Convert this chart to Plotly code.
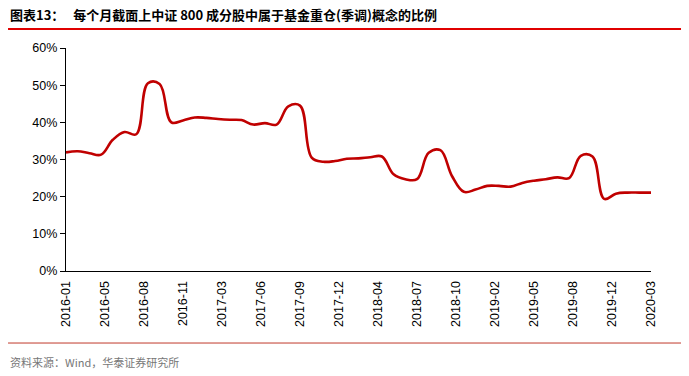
import plotly.graph_objects as go

months = [
    "2016-01", "2016-02", "2016-03", "2016-04", "2016-05", "2016-06", "2016-07", "2016-08", "2016-09", "2016-10", "2016-11", "2016-12",
    "2017-01", "2017-02", "2017-03", "2017-04", "2017-05", "2017-06", "2017-07", "2017-08", "2017-09", "2017-10", "2017-11", "2017-12",
    "2018-01", "2018-02", "2018-03", "2018-04", "2018-05", "2018-06", "2018-07", "2018-08", "2018-09", "2018-10", "2018-11", "2018-12",
    "2019-01", "2019-02", "2019-03", "2019-04", "2019-05", "2019-06", "2019-07", "2019-08", "2019-09", "2019-10", "2019-11", "2019-12",
    "2020-01", "2020-02", "2020-03",
]

ratio_pct = [
    31.9, 32.2, 31.7, 31.3, 35.3, 37.4, 36.8, 50.5, 50.3, 40.0, 40.5, 41.3,
    41.2, 40.9, 40.7, 40.6, 39.4, 39.8, 39.4, 44.3, 44.5, 30.5, 29.4, 29.6,
    30.2, 30.3, 30.6, 30.8, 26.0, 24.7, 24.7, 31.8, 32.5, 25.5, 21.3, 21.9,
    22.9, 22.9, 22.7, 23.7, 24.3, 24.7, 25.2, 25.0, 31.0, 30.8, 19.4, 20.8,
    21.1, 21.1, 21.1,
]

tick_labels = [
    "2016-01", "2016-05", "2016-08", "2016-11", "2017-03", "2017-06", "2017-09", "2017-12",
    "2018-04", "2018-07", "2018-10", "2019-02", "2019-05", "2019-08", "2019-12", "2020-03",
]

title_text = "图表13：   每个月截面上中证 800 成分股中属于基金重仓(季调)概念的比例"
source_text = "资料来源：Wind，华泰证券研究所"

x_idx = list(range(len(months)))
y_vals = [v / 100 for v in ratio_pct]
n_last = len(months) - 1
tick_pos = [n_last * i / (len(tick_labels) - 1) for i in range(len(tick_labels))]

fig = go.Figure()
fig.add_trace(go.Scatter(
    x=x_idx, y=y_vals, mode="lines",
    line=dict(color="#C00000", width=2.6, shape="spline", smoothing=1.1),
    customdata=months, hovertemplate="%{customdata}: %{y:.1%}<extra></extra>",
    showlegend=False,
))

base_font = "Liberation Sans, Arial, Noto Sans CJK SC, sans-serif"
cjk_font = "Noto Sans CJK SC, Liberation Sans, sans-serif"

fig.update_layout(
    width=689, height=376,
    margin=dict(l=66, r=38, t=48, b=105, autoexpand=False),
    paper_bgcolor="white", plot_bgcolor="white",
    font=dict(family=base_font, size=12, color="#000000"),
    xaxis=dict(
        range=[0, n_last], tickmode="array", tickvals=tick_pos, ticktext=tick_labels,
        tickangle=-90, showline=True, linecolor="#000000", linewidth=1.2, automargin=False,
        showgrid=False, zeroline=False, ticks="", ticklabelstandoff=4,
        tickfont=dict(size=12.5, family=base_font),
    ),
    yaxis=dict(
        range=[0, 0.6], dtick=0.1, tickformat=".0%", showline=True, linecolor="#000000",
        linewidth=1.2, showgrid=False, zeroline=False, ticks="outside", ticklen=5, automargin=False,
        tickcolor="#000000", tickfont=dict(size=12.5, family=base_font),
    ),
    shapes=[
        dict(type="line", xref="paper", yref="paper", x0=-0.0991, x1=1.0513, y0=1.085, y1=1.085,
             line=dict(color="#E00000", width=2)),
        dict(type="line", xref="paper", yref="paper", x0=-0.0991, x1=1.0513, y0=-0.323, y1=-0.323,
             line=dict(color="#C0392B", width=1)),
    ],
    annotations=[
        dict(text="<b>" + title_text + "</b>", xref="paper", yref="paper", x=-0.0991, y=1.148,
             xanchor="left", yanchor="middle", showarrow=False,
             font=dict(size=13, family=cjk_font, color="#000000")),
        dict(text=source_text, xref="paper", yref="paper", x=-0.0991, y=-0.408,
             xanchor="left", yanchor="middle", showarrow=False,
             font=dict(size=11, family=cjk_font, color="#777777")),
    ],
)

fig.write_html(
    "out.html",
    config={"displayModeBar": False},
    post_script="document.body.style.margin='0';document.body.style.overflow='hidden';",
)
